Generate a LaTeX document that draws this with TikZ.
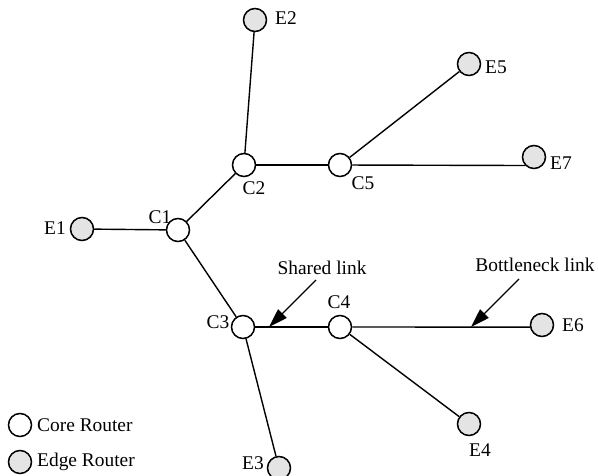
\documentclass[tikz,border=0pt]{standalone}
\usepackage{fontspec}
\setmainfont{Liberation Serif}
\usetikzlibrary{arrows.meta}
\definecolor{edgefill}{HTML}{E4E4E4}
\tikzset{
  core/.style={circle,draw=black,line width=1.5pt,fill=white,minimum size=23pt,inner sep=0pt},
  edger/.style={circle,draw=black,line width=1.5pt,fill=edgefill,minimum size=23pt,inner sep=0pt},
  lbl/.style={inner sep=0pt,font=\fontsize{19.4}{23}\selectfont},
  link/.style={line width=1.4pt},
  pointer/.style={line width=1.4pt,-{Triangle[length=19pt,width=12pt]}}
}
\begin{document}
\begin{tikzpicture}[x=1pt,y=-1pt]
\useasboundingbox (0,0) rectangle (598,476);
% nodes
\node[edger] (E2) at (255,20) {};
\node[core] (C2) at (244,165) {};
\node[core] (C5) at (340,165) {};
\node[edger] (E5) at (469,64) {};
\node[edger] (E7) at (534,157) {};
\node[core] (C1) at (178,230) {};
\node[edger] (E1) at (82,229) {};
\node[core] (C3) at (243,327) {};
\node[core] (C4) at (340,327) {};
\node[edger] (E6) at (542,325) {};
\node[edger] (E4) at (469,424) {};
\node[edger] (E3) at (279,468) {};
\node[core] (LC) at (20,425) {};
\node[edger] (LE) at (20,462) {};
% links
\draw[link] (C2) -- (E2);
\draw[link] (C2) -- (C5);
\draw[link] (C5) -- (E5);
\draw[link] (C5) -- (E7.224);
\draw[link] (C1) -- (E1);
\draw[link] (C1) -- (C2);
\draw[link] (C1) -- (C3);
\draw[link] (C3) -- (C4);
\draw[link] (C4) -- (E6.190);
\draw[link] (C4) -- (E4);
\draw[link] (C3) -- (E3);
% labels
\node[lbl] (tE2) at (286,18) {E2};
\node[lbl] (tE1) at (55,228) {E1};
\node[lbl] (tC1) at (160,217) {C1};
\node[lbl] (tC2) at (254,188) {C2};
\node[lbl] (tC5) at (363,183) {C5};
\node[lbl] (tE5) at (496,67) {E5};
\node[lbl] (tE7) at (561,163) {E7};
\node[lbl] (tC3) at (218,322) {C3};
\node[lbl] (tC4) at (339,302) {C4};
\node[lbl] (tE6) at (573,325) {E6};
\node[lbl] (tE4) at (480,450) {E4};
\node[lbl] (tE3) at (253,463) {E3};
\node[lbl] (shared) at (322,268) {Shared link};
\node[lbl] (bottle) at (535,265) {Bottleneck link};
\node[lbl,anchor=west] (tLC) at (37,425) {Core Router};
\node[lbl,anchor=west] (tLE) at (37,462) {Edge Router};
% pointers
\coordinate (s0) at (316,280);
\coordinate (s1) at (269,327);
\coordinate (b0) at (519,279);
\coordinate (b1) at (471,327);
\draw[pointer] (s0) -- (s1);
\draw[pointer] (b0) -- (b1);
\end{tikzpicture}
\end{document}
